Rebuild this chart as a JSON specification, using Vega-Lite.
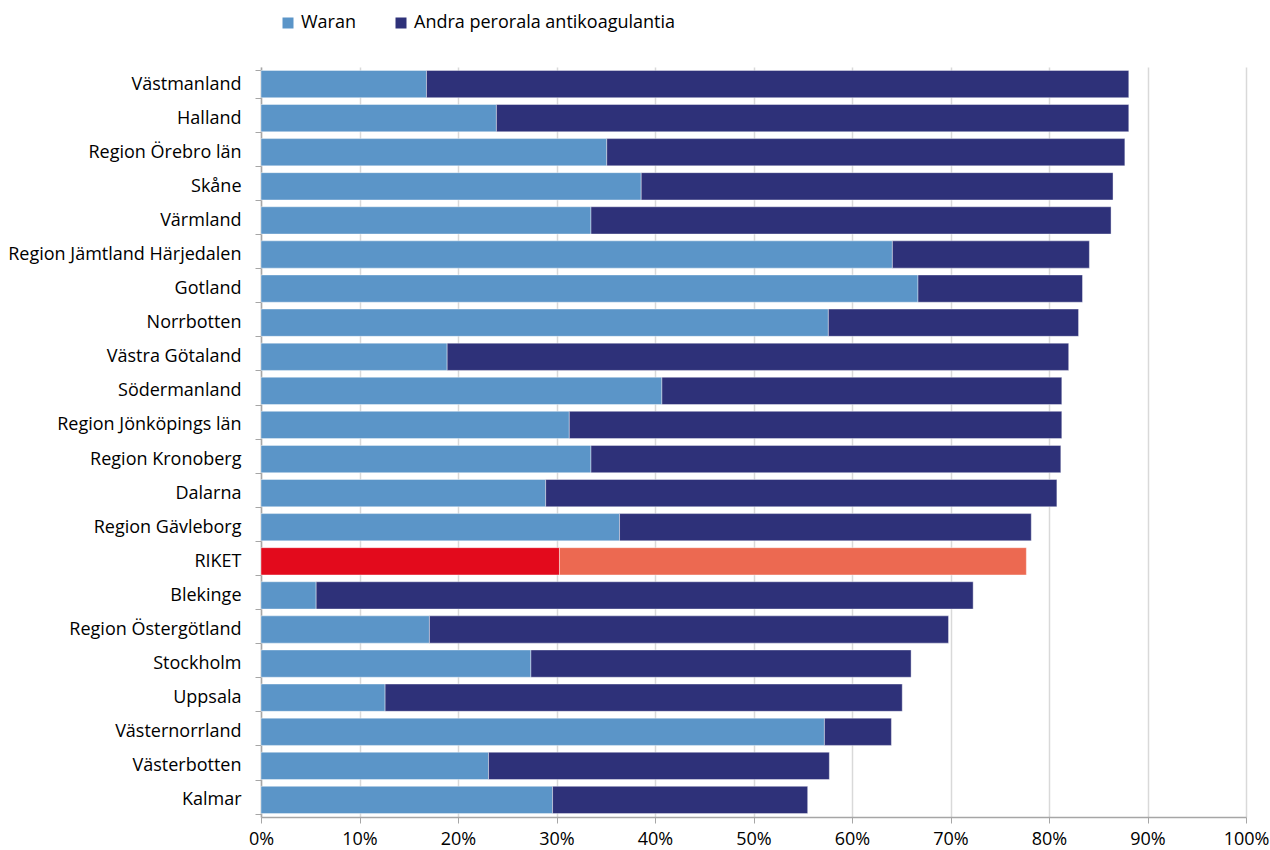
{
  "$schema": "https://vega.github.io/schema/vega-lite/v6.json",
  "width": 985,
  "height": 750,
  "autosize": {"type": "none"},
  "padding": {"left": 261, "top": 67, "right": 24, "bottom": 33},
  "background": "white",
  "config": {"font": "Open Sans", "view": {"stroke": null}},
  "data": {
    "values": [
      {"region": "Västmanland", "serie": "Waran", "andel": 16.8},
      {"region": "Västmanland", "serie": "Andra perorala antikoagulantia", "andel": 71.3},
      {"region": "Halland", "serie": "Waran", "andel": 23.9},
      {"region": "Halland", "serie": "Andra perorala antikoagulantia", "andel": 64.2},
      {"region": "Region Örebro län", "serie": "Waran", "andel": 35.1},
      {"region": "Region Örebro län", "serie": "Andra perorala antikoagulantia", "andel": 52.6},
      {"region": "Skåne", "serie": "Waran", "andel": 38.6},
      {"region": "Skåne", "serie": "Andra perorala antikoagulantia", "andel": 47.9},
      {"region": "Värmland", "serie": "Waran", "andel": 33.5},
      {"region": "Värmland", "serie": "Andra perorala antikoagulantia", "andel": 52.8},
      {"region": "Region Jämtland Härjedalen", "serie": "Waran", "andel": 64.1},
      {"region": "Region Jämtland Härjedalen", "serie": "Andra perorala antikoagulantia", "andel": 20.0},
      {"region": "Gotland", "serie": "Waran", "andel": 66.7},
      {"region": "Gotland", "serie": "Andra perorala antikoagulantia", "andel": 16.7},
      {"region": "Norrbotten", "serie": "Waran", "andel": 57.6},
      {"region": "Norrbotten", "serie": "Andra perorala antikoagulantia", "andel": 25.4},
      {"region": "Västra Götaland", "serie": "Waran", "andel": 18.9},
      {"region": "Västra Götaland", "serie": "Andra perorala antikoagulantia", "andel": 63.1},
      {"region": "Södermanland", "serie": "Waran", "andel": 40.7},
      {"region": "Södermanland", "serie": "Andra perorala antikoagulantia", "andel": 40.6},
      {"region": "Region Jönköpings län", "serie": "Waran", "andel": 31.3},
      {"region": "Region Jönköpings län", "serie": "Andra perorala antikoagulantia", "andel": 50.0},
      {"region": "Region Kronoberg", "serie": "Waran", "andel": 33.5},
      {"region": "Region Kronoberg", "serie": "Andra perorala antikoagulantia", "andel": 47.7},
      {"region": "Dalarna", "serie": "Waran", "andel": 28.9},
      {"region": "Dalarna", "serie": "Andra perorala antikoagulantia", "andel": 51.9},
      {"region": "Region Gävleborg", "serie": "Waran", "andel": 36.4},
      {"region": "Region Gävleborg", "serie": "Andra perorala antikoagulantia", "andel": 41.8},
      {"region": "RIKET", "serie": "Waran", "andel": 30.3},
      {"region": "RIKET", "serie": "Andra perorala antikoagulantia", "andel": 47.4},
      {"region": "Blekinge", "serie": "Waran", "andel": 5.6},
      {"region": "Blekinge", "serie": "Andra perorala antikoagulantia", "andel": 66.7},
      {"region": "Region Östergötland", "serie": "Waran", "andel": 17.1},
      {"region": "Region Östergötland", "serie": "Andra perorala antikoagulantia", "andel": 52.7},
      {"region": "Stockholm", "serie": "Waran", "andel": 27.4},
      {"region": "Stockholm", "serie": "Andra perorala antikoagulantia", "andel": 38.6},
      {"region": "Uppsala", "serie": "Waran", "andel": 12.6},
      {"region": "Uppsala", "serie": "Andra perorala antikoagulantia", "andel": 52.5},
      {"region": "Västernorrland", "serie": "Waran", "andel": 57.2},
      {"region": "Västernorrland", "serie": "Andra perorala antikoagulantia", "andel": 6.8},
      {"region": "Västerbotten", "serie": "Waran", "andel": 23.1},
      {"region": "Västerbotten", "serie": "Andra perorala antikoagulantia", "andel": 34.6},
      {"region": "Kalmar", "serie": "Waran", "andel": 29.6},
      {"region": "Kalmar", "serie": "Andra perorala antikoagulantia", "andel": 25.9}
    ]
  },
  "mark": {"type": "bar", "stroke": "#ffffff", "strokeOpacity": 0.4, "strokeWidth": 1},
  "encoding": {
    "y": {
      "field": "region",
      "type": "nominal",
      "sort": null,
      "scale": {"paddingInner": 0.2, "paddingOuter": 0.1},
      "axis": {
        "title": null,
        "labelFontSize": 18,
        "labelColor": "#000000",
        "labelPadding": 14,
        "labelLimit": 300,
        "tickSize": 6,
        "tickColor": "#a6a6a6",
        "domainColor": "#a6a6a6",
        "domainWidth": 1.5,
        "tickBand": "extent",
        "grid": false
      }
    },
    "x": {
      "field": "andel",
      "type": "quantitative",
      "stack": "zero",
      "scale": {"domain": [0, 100]},
      "axis": {
        "title": null,
        "values": [0, 10, 20, 30, 40, 50, 60, 70, 80, 90, 100],
        "labelExpr": "datum.value + '%'",
        "labelFontSize": 18,
        "labelColor": "#000000",
        "labelPadding": 7,
        "labelFlush": false,
        "gridColor": "#d9d9d9",
        "gridWidth": 1.5,
        "tickColor": "#a6a6a6",
        "domainColor": "#a6a6a6",
        "domainWidth": 1.5,
        "tickSize": 6
      }
    },
    "color": {
      "field": "serie",
      "type": "nominal",
      "scale": {
        "domain": ["Waran", "Andra perorala antikoagulantia"],
        "range": ["#5B95C8", "#2E3179"]
      },
      "condition": [
        {"test": "datum.region === 'RIKET' && datum.serie === 'Waran'", "value": "#E30A1C"},
        {"test": "datum.region === 'RIKET' && datum.serie !== 'Waran'", "value": "#EC6951"}
      ],
      "legend": {
        "orient": "none",
        "legendX": 18,
        "legendY": -53,
        "direction": "horizontal",
        "title": null,
        "symbolType": "square",
        "symbolSize": 121,
        "symbolStrokeWidth": 0,
        "labelFontSize": 18,
        "labelColor": "#000000",
        "labelLimit": 400,
        "labelOffset": 4,
        "columnPadding": 35
      }
    },
    "order": {"field": "serie", "sort": "descending"}
  }
}
